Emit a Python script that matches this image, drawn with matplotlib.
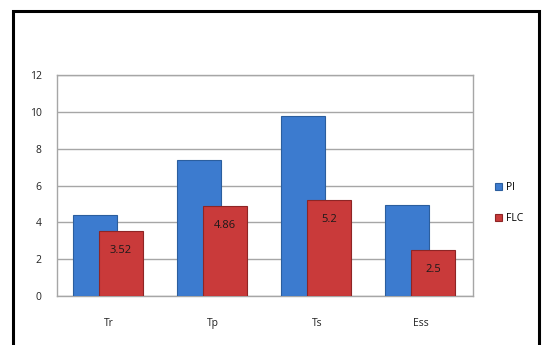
#!/usr/bin/env python3
"""Grouped bar chart: PI vs FLC response metrics."""

import matplotlib.pyplot as plt
import numpy as np
from matplotlib.patches import Rectangle

categories = ["Tr", "Tp", "Ts", "Ess"]
pi_values = [4.38, 7.4, 9.8, 4.93]
flc_values = [3.52, 4.86, 5.2, 2.5]
flc_labels = ["3.52", "4.86", "5.2", "2.5"]
y_ticks = [0, 2, 4, 6, 8, 10, 12]

plt.rcParams["font.family"] = ["Open Sans", "DejaVu Sans"]

fig = plt.figure(figsize=(5.42, 3.45), dpi=100)

# outer black frame (bottom edge runs off the picture)
fig.patches.append(
    Rectangle((13 / 542, -0.05), 526 / 542, 1.05 - 11 / 345,
              transform=fig.transFigure, fill=False, edgecolor="black",
              linewidth=2.2)
)

ax = fig.add_axes([57 / 542, 1 - 296 / 345, 416 / 542, 221 / 345])

x = np.arange(len(categories))
width = 0.42
ax.bar(x - 0.135, pi_values, width, color="#3C7BCF", edgecolor="#2B5E9E",
       linewidth=0.8, zorder=3, label="PI")
red = ax.bar(x + 0.115, flc_values, width, color="#C93A3A", edgecolor="#8E2525",
             linewidth=0.8, zorder=4, label="FLC")

for rect, lab in zip(red, flc_labels):
    ax.annotate(lab, (rect.get_x() + rect.get_width() / 2, rect.get_height()),
                xytext=(0, -14), textcoords="offset points", ha="center",
                va="center", fontsize=8, color="#1a1a1a", zorder=5)

ax.set_xlim(-0.5, len(categories) - 0.5)
ax.set_ylim(0, 12)
ax.set_yticks(y_ticks)
ax.set_xticks(x)
ax.set_xticklabels(categories)
ax.tick_params(axis="both", length=0, labelsize=7.5, colors="#222222")
ax.tick_params(axis="x", pad=16)
ax.tick_params(axis="y", pad=11)
ax.yaxis.grid(True, color="#A6A6A6", linewidth=1.0, zorder=0)
for side in ax.spines.values():
    side.set_color("#A6A6A6")
    side.set_linewidth(1.0)

ax.legend(loc="center left", bbox_to_anchor=(1.03, 0.42), frameon=False,
          fontsize=7.5, handlelength=0.7, handleheight=0.7, handletextpad=0.4,
          labelspacing=1.9)

fig.savefig("out.png", dpi=100)
